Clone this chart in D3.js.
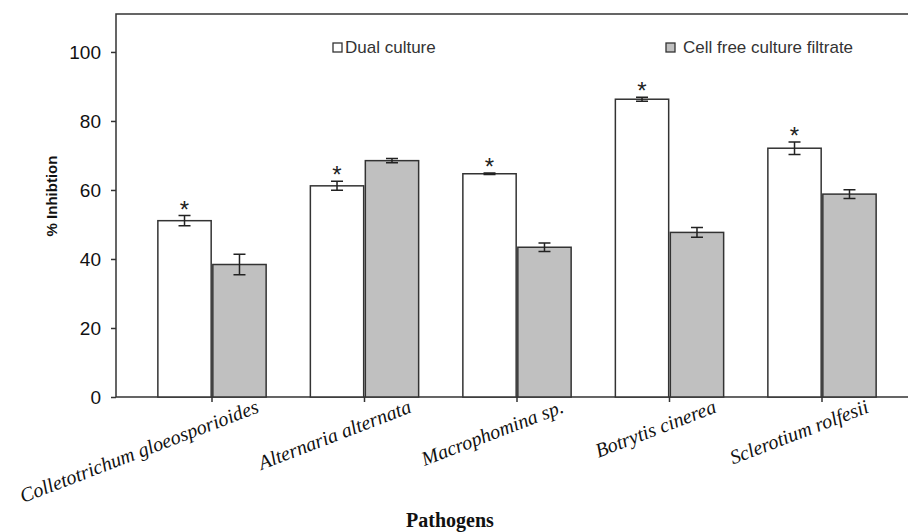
<!DOCTYPE html>
<meta charset="utf-8">
<style>
    body { margin: 0; background: #fff; }
    .frame { fill: none; stroke: #333; stroke-width: 1.5px; }
    .yAxis text { font-family: "Liberation Sans", Arial, sans-serif; font-size: 19px; fill: #111; }
    .yAxis line, .xAxis line { stroke: #333; stroke-width: 1.5px; }
    .yAxis path, .xAxis path { display: none; }
    .xAxis text {
        font-family: "Liberation Serif", "Times New Roman", serif;
        font-style: italic;
        font-size: 20px;
        fill: #111;
    }
    .bar { stroke: #333; stroke-width: 1.5px; }
    .err { stroke: #222; stroke-width: 1.5px; fill: none; }
    .star { font-family: "Liberation Sans", Arial, sans-serif; font-size: 24px; fill: #222; text-anchor: middle; }
    .legend text { font-family: "Liberation Sans", Arial, sans-serif; font-size: 17px; fill: #333; }
    .ylabel { font-family: "Liberation Sans", Arial, sans-serif; font-size: 15px; font-weight: bold; fill: #111; }
    .xlabel { font-family: "Liberation Serif", "Times New Roman", serif; font-size: 20px; font-weight: bold; fill: #111; }
</style>
<body>
    <svg width="908" height="532"></svg>
</body>
<script src="https://d3js.org/d3.v7.min.js"></script>
<script>

    // data
    var pathogens = ["Colletotrichum gloeosporioides", "Alternaria alternata", "Macrophomina sp.",
                     "Botrytis cinerea", "Sclerotium rolfesii"];
    var seriesNames = ["Dual culture", "Cell free culture filtrate"];
    var dualCulture = [51.1, 61.2, 64.7, 86.3, 72.1];
    var dualErr = [1.5, 1.3, 0.2, 0.6, 1.8];
    var cellFree = [38.4, 68.5, 43.4, 47.7, 58.8];
    var cellFreeErr = [3.0, 0.6, 1.2, 1.4, 1.3];
    var significant = [true, true, true, true, true];
    var yTicks = [0, 20, 40, 60, 80, 100];

    var colors = { "Dual culture": "#ffffff", "Cell free culture filtrate": "#c0c0c0" };

    var svg = d3.select("svg"),
        width = +svg.attr("width"),
        height = +svg.attr("height");

    var plotLeft = 116, plotTop = 14, plotBottom = 397;

    var x0 = d3.scaleBand()
            .domain(pathogens)
            .range([135.75, 898.25])
            .paddingInner(0.29)
            .paddingOuter(0.145);

    var x1 = d3.scaleBand()
            .domain(seriesNames)
            .range([0, x0.bandwidth()])
            .paddingInner(0.03);

    var y = d3.scaleLinear()
            .domain([0, 111])
            .range([plotBottom, plotTop]);

    // rows for the bars
    var rows = pathogens.map(function (p, i) {
        return {
            name: p,
            star: significant[i],
            values: [
                { key: seriesNames[0], value: dualCulture[i], err: dualErr[i] },
                { key: seriesNames[1], value: cellFree[i], err: cellFreeErr[i] }
            ]
        };
    });

    // frame: top, left, bottom (right edge is cut off)
    svg.append("path")
            .attr("class", "frame")
            .attr("d", "M" + width + "," + plotTop + "H" + plotLeft + "V" + plotBottom + "H" + width);

    // y axis
    svg.append("g")
            .attr("class", "yAxis")
            .attr("transform", "translate(" + plotLeft + ",0)")
            .call(d3.axisLeft(y).tickValues(yTicks).tickSize(5).tickPadding(10))
            .selectAll("text")
            .attr("dy", "0.36em");

    // x axis ticks and rotated labels
    var xAxis = svg.append("g")
            .attr("class", "xAxis")
            .attr("transform", "translate(0," + plotBottom + ")")
            .call(d3.axisBottom(x0).tickSize(5));

    xAxis.selectAll("text")
            .attr("text-anchor", "end")
            .attr("x", 0)
            .attr("y", 0)
            .attr("dy", 0)
            .attr("transform", "translate(48,15) rotate(-21)");

    // bar groups
    var group = svg.selectAll(".grp")
            .data(rows)
            .enter().append("g")
            .attr("class", "grp")
            .attr("transform", function (d) { return "translate(" + x0(d.name) + ",0)"; });

    group.selectAll(".bar")
            .data(function (d) { return d.values; })
            .enter().append("rect")
            .attr("class", "bar")
            .attr("x", function (d) { return x1(d.key); })
            .attr("width", x1.bandwidth())
            .attr("y", function (d) { return y(d.value); })
            .attr("height", function (d) { return y(0) - y(d.value); })
            .style("fill", function (d) { return colors[d.key]; });

    // error bars
    var errG = group.selectAll(".errG")
            .data(function (d) { return d.values; })
            .enter().append("g")
            .attr("class", "errG")
            .attr("transform", function (d) { return "translate(" + (x1(d.key) + x1.bandwidth() / 2) + ",0)"; });

    errG.append("path")
            .attr("class", "err")
            .attr("d", function (d) {
                var t = y(d.value + d.err), b = y(d.value - d.err);
                return "M-6," + t + "H6M0," + t + "V" + b + "M-6," + b + "H6";
            });

    // significance stars over dual culture bars
    group.filter(function (d) { return d.star; })
            .append("text")
            .attr("class", "star")
            .attr("x", x1(seriesNames[0]) + x1.bandwidth() / 2)
            .attr("y", function (d) { return y(d.values[0].value + d.values[0].err) + 2; })
            .text("*");

    // legend
    var legendX = [333, 666];
    var legend = svg.selectAll(".legend")
            .data(seriesNames)
            .enter().append("g")
            .attr("class", "legend")
            .attr("transform", function (d, i) { return "translate(" + legendX[i] + ",43)"; });

    legend.append("rect")
            .attr("width", 9)
            .attr("height", 9)
            .style("fill", function (d) { return colors[d]; })
            .style("stroke", "#333")
            .style("stroke-width", 1.3);

    legend.append("text")
            .attr("x", function (d, i) { return i === 0 ? 12 : 17; })
            .attr("y", 10)
            .text(function (d) { return d; });

    // axis titles
    svg.append("text")
            .attr("class", "ylabel")
            .attr("transform", "translate(57,196) rotate(-90)")
            .attr("text-anchor", "middle")
            .text("% Inhibtion");

    svg.append("text")
            .attr("class", "xlabel")
            .attr("x", 450)
            .attr("y", 527)
            .attr("text-anchor", "middle")
            .text("Pathogens");

</script>
